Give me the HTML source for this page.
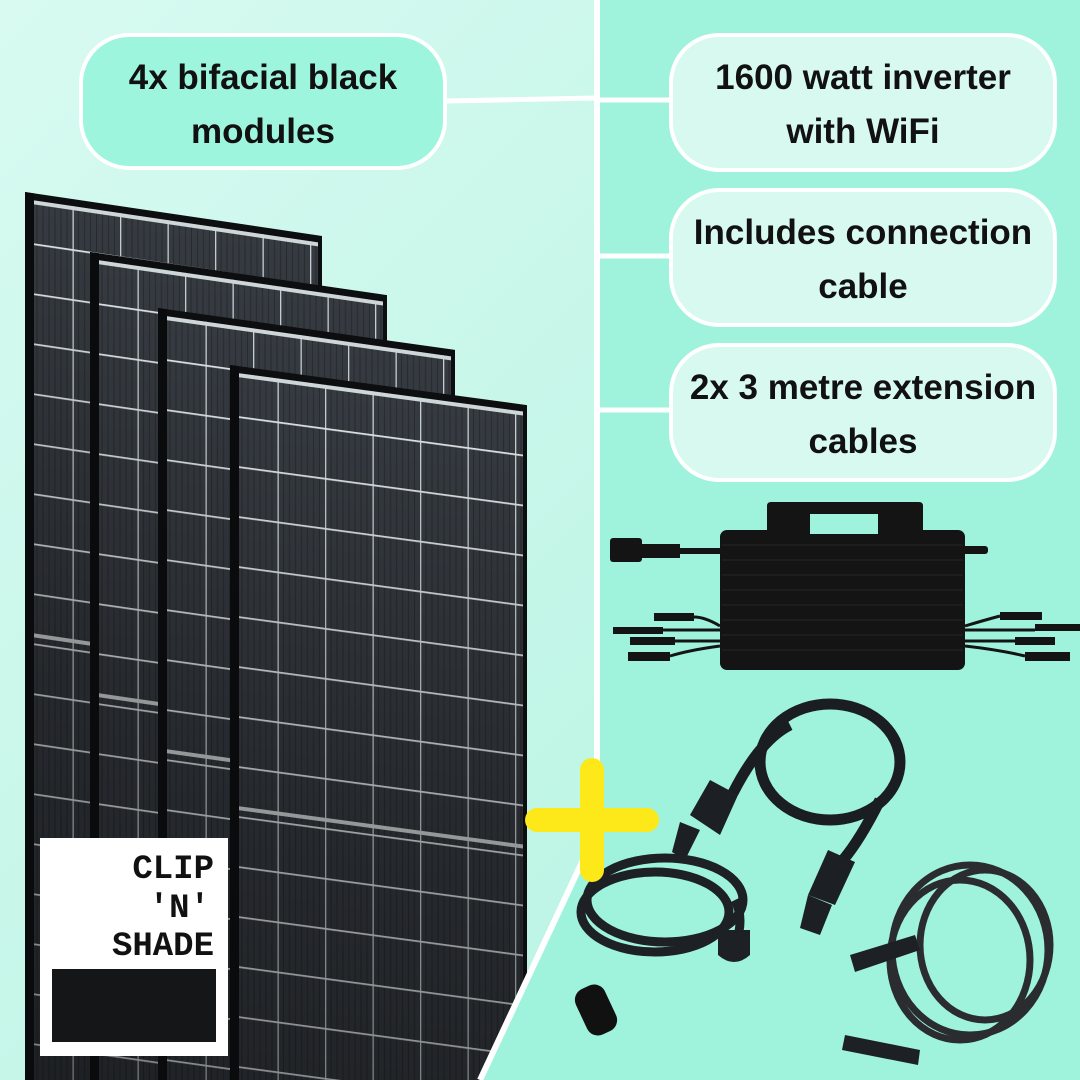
<!DOCTYPE html>
<html><head><meta charset="utf-8"><style>
html,body{margin:0;padding:0;width:1080px;height:1080px;overflow:hidden}
svg{display:block}
text{font-family:"Liberation Sans",sans-serif;font-weight:bold;fill:#111}
</style></head><body>
<svg width="1080" height="1080" viewBox="0 0 1080 1080" xmlns="http://www.w3.org/2000/svg">
<defs>
<clipPath id="cl"><rect width="1080" height="1080"/></clipPath>
<linearGradient id="lbg" x1="0" y1="0" x2="1" y2="1">
<stop offset="0" stop-color="#d8faf1"/><stop offset="1" stop-color="#b2f3e0"/></linearGradient>
<pattern id="cells" patternUnits="userSpaceOnUse" width="47.5" height="50">
<rect width="47.5" height="50" fill="#363b41"/>
<g stroke="#272b30" stroke-width="1">
<line x1="6" y1="0" x2="6" y2="50"/><line x1="12" y1="0" x2="12" y2="50"/><line x1="18" y1="0" x2="18" y2="50"/><line x1="24" y1="0" x2="24" y2="50"/><line x1="30" y1="0" x2="30" y2="50"/><line x1="36" y1="0" x2="36" y2="50"/><line x1="42" y1="0" x2="42" y2="50"/></g>
<rect x="0" y="0" width="1.3" height="50" fill="#c8d0d3"/>
<rect x="0" y="0" width="47.5" height="1.8" fill="#e0e6e8"/>
</pattern>
<linearGradient id="shade" x1="0" y1="0" x2="0" y2="1">
<stop offset="0" stop-color="#000" stop-opacity="0"/><stop offset="0.5" stop-color="#000" stop-opacity="0.3"/><stop offset="1" stop-color="#000" stop-opacity="0.45"/></linearGradient>
<g id="panel">
<rect x="0" y="0" width="297" height="900" fill="#0d0e10"/>
<rect x="9" y="7" width="284" height="893" fill="url(#cells)"/>
<rect x="9" y="7" width="284" height="4" fill="#cfd6d8"/>
<rect x="9" y="440" width="284" height="4" fill="#d0d6d8"/>
<rect x="9" y="7" width="284" height="893" fill="url(#shade)"/>
<rect x="0" y="0" width="9" height="900" fill="#0a0b0c"/>
</g>
</defs>
<g clip-path="url(#cl)">
<rect width="1080" height="1080" fill="url(#lbg)"/>
<g transform="matrix(1,0.148,0,1,25,192)"><use href="#panel"/></g>
<g transform="matrix(1,0.145,0,1,90,252)"><use href="#panel"/></g>
<g transform="matrix(1,0.141,0,1,158,308)"><use href="#panel"/></g>
<g transform="matrix(1,0.135,0,1,230,365)"><use href="#panel"/></g>
<polygon points="597,0 1080,0 1080,1080 480,1080 597,830" fill="#9ff3dd"/>
<polyline points="597,0 597,830 480,1080" fill="none" stroke="#fff" stroke-width="6"/>
<line x1="445" y1="101" x2="597" y2="98" stroke="#fff" stroke-width="5"/>
<line x1="597" y1="100" x2="672" y2="100" stroke="#fff" stroke-width="5"/>
<line x1="597" y1="256" x2="672" y2="256" stroke="#fff" stroke-width="5"/>
<line x1="597" y1="410" x2="672" y2="410" stroke="#fff" stroke-width="5"/>
<rect x="81" y="35" width="364" height="133" rx="48" fill="#9ef5de" stroke="#fff" stroke-width="4"/>
<text x="263" y="89" font-size="35" text-anchor="middle">4x bifacial black</text>
<text x="263" y="143" font-size="35" text-anchor="middle">modules</text>
<rect x="671" y="35" width="384" height="135" rx="48" fill="#d7f9ef" stroke="#fff" stroke-width="4"/>
<text x="863" y="89" font-size="35" text-anchor="middle">1600 watt inverter</text>
<text x="863" y="143" font-size="35" text-anchor="middle">with WiFi</text>
<rect x="671" y="190" width="384" height="135" rx="48" fill="#d7f9ef" stroke="#fff" stroke-width="4"/>
<text x="863" y="244" font-size="35" text-anchor="middle">Includes connection</text>
<text x="863" y="298" font-size="35" text-anchor="middle">cable</text>
<rect x="671" y="345" width="384" height="135" rx="48" fill="#d7f9ef" stroke="#fff" stroke-width="4"/>
<text x="863" y="399" font-size="35" text-anchor="middle">2x 3 metre extension</text>
<text x="863" y="453" font-size="35" text-anchor="middle">cables</text>
<g fill="#141414">
<path d="M767,533 V506 Q767,502 771,502 H919 Q923,502 923,506 V533 Z"/>
<rect x="720" y="530" width="245" height="140" rx="7"/>
<rect x="610" y="538" width="32" height="24" rx="3"/>
<rect x="640" y="544" width="40" height="14"/>
<rect x="678" y="548" width="45" height="6"/>
<rect x="962" y="546" width="26" height="8" rx="3"/>
<rect x="613" y="627" width="50" height="7"/><rect x="654" y="613" width="40" height="8"/>
<rect x="630" y="637" width="45" height="8"/><rect x="628" y="652" width="42" height="9"/>
<rect x="1000" y="612" width="42" height="8"/><rect x="1035" y="624" width="45" height="7"/>
<rect x="1015" y="637" width="40" height="8"/><rect x="1025" y="652" width="45" height="9"/>
</g>
<rect x="810" y="514" width="68" height="20" fill="#9ff3dd"/>
<g stroke="#141414" stroke-width="3" fill="none">
<path d="M663,630 H720"/><path d="M694,617 Q705,617 720,626"/><path d="M675,641 H720"/><path d="M670,656 Q690,650 720,646"/>
<path d="M965,630 H1035"/><path d="M1000,616 Q985,620 965,626"/><path d="M965,641 H1015"/><path d="M1025,656 Q1000,650 965,646"/>
</g>
<g stroke="#262626" stroke-width="1">
<line x1="722" y1="545" x2="963" y2="545"/><line x1="722" y1="560" x2="963" y2="560"/><line x1="722" y1="575" x2="963" y2="575"/><line x1="722" y1="590" x2="963" y2="590"/><line x1="722" y1="605" x2="963" y2="605"/><line x1="722" y1="620" x2="963" y2="620"/><line x1="722" y1="635" x2="963" y2="635"/><line x1="722" y1="650" x2="963" y2="650"/>
</g>
<g fill="none" stroke="#1a1d22" stroke-width="11">
<ellipse cx="830" cy="762" rx="70" ry="58"/>
<path d="M733,793 Q760,740 790,725"/>
<path d="M880,800 Q860,840 843,860"/>
</g>
<g fill="#1c1f24">
<polygon points="710,780 738,795 720,835 690,815"/>
<polygon points="680,822 700,830 685,860 672,852"/>
<polygon points="828,850 855,862 835,905 808,895"/>
<polygon points="808,895 832,905 820,935 800,928"/>
</g>
<g fill="none" stroke="#1d2024" stroke-width="9">
<ellipse cx="665" cy="900" rx="78" ry="42"/>
<ellipse cx="655" cy="912" rx="74" ry="40"/>
<path d="M735,900 Q745,920 735,945"/>
</g>
<path d="M718,930 h32 v25 q-16,14 -32,0 z" fill="#1d2024"/>
<g stroke="#fde81a" stroke-width="24" stroke-linecap="round">
<line x1="592" y1="770" x2="592" y2="870"/><line x1="537" y1="820" x2="647" y2="820"/>
</g>
<rect x="580" y="985" width="32" height="50" rx="12" fill="#111" transform="rotate(-25 596 1010)"/>
<g fill="none" stroke="#2a2c30" stroke-width="7">
<ellipse cx="970" cy="950" rx="78" ry="85"/>
<ellipse cx="960" cy="960" rx="70" ry="80"/>
<ellipse cx="985" cy="945" rx="65" ry="75"/>
</g>
<g fill="#1d2024">
<polygon points="850,955 915,935 920,950 855,972"/>
<polygon points="845,1035 920,1050 918,1065 842,1050"/>
</g>
<rect x="40" y="838" width="188" height="218" fill="#fff"/>
<rect x="52" y="969" width="164" height="73" fill="#151618"/>
<g font-size="34" text-anchor="end">
<text x="214" y="878" style="font-family:'Liberation Mono',monospace">CLIP</text>
<text x="210" y="917" style="font-family:'Liberation Mono',monospace">'N'</text>
<text x="214" y="955" style="font-family:'Liberation Mono',monospace">SHADE</text>
</g>
</g>
</svg>
</body></html>
